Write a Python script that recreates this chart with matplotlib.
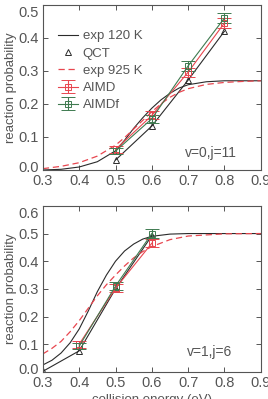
import matplotlib.pyplot as plt
import matplotlib.transforms as mtransforms
import numpy as np

plt.rcParams['font.family'] = ['Liberation Sans', 'DejaVu Sans']

# ---- panel 1: v=0, j=11 ----
e_exp1 = [0.30, 0.35, 0.40, 0.45, 0.50, 0.525, 0.55, 0.575, 0.60, 0.625, 0.65, 0.675, 0.70, 0.75, 0.80, 0.85, 0.90]
exp120_1 = [0.000, 0.002, 0.009, 0.025, 0.058, 0.090, 0.126, 0.158, 0.187, 0.212, 0.232, 0.248, 0.258, 0.267, 0.270, 0.270, 0.270]
exp925_1 = [0.004, 0.011, 0.022, 0.042, 0.075, 0.098, 0.124, 0.150, 0.176, 0.200, 0.220, 0.235, 0.246, 0.259, 0.265, 0.268, 0.270]

e_sim1 = [0.5, 0.6, 0.7, 0.8]
qct1 = [0.030, 0.133, 0.272, 0.420]
aimd1 = [0.062, 0.165, 0.296, 0.445]
aimd1_err = [0.010, 0.012, 0.014, 0.015]
aimdf1 = [0.057, 0.155, 0.315, 0.460]
aimdf1_err = [0.010, 0.012, 0.014, 0.015]

# ---- panel 2: v=1, j=6 ----
e_exp2 = [0.30, 0.325, 0.35, 0.375, 0.40, 0.425, 0.45, 0.475, 0.50, 0.525, 0.55, 0.575, 0.60, 0.65, 0.70, 0.80, 0.90]
exp120_2 = [0.025, 0.042, 0.068, 0.105, 0.155, 0.220, 0.290, 0.350, 0.400, 0.437, 0.462, 0.480, 0.490, 0.498, 0.500, 0.500, 0.500]
exp925_2 = [0.065, 0.085, 0.110, 0.145, 0.185, 0.230, 0.275, 0.315, 0.350, 0.383, 0.412, 0.435, 0.453, 0.478, 0.491, 0.499, 0.500]

e_qct2 = [0.3, 0.4, 0.5, 0.6]
qct2 = [0.002, 0.076, 0.300, 0.492]
e_sim2 = [0.4, 0.5, 0.6]
aimd2 = [0.100, 0.302, 0.465]
aimd2_err = [0.012, 0.015, 0.015]
aimdf2 = [0.093, 0.310, 0.500]
aimdf2_err = [0.012, 0.015, 0.015]

grey = '#555555'
red = '#e8464f'
green = '#3f7a50'
black = '#2b2b2b'

fig = plt.figure(figsize=(2.68, 3.99), dpi=100)
ax1 = fig.add_axes([0.160, 0.574, 0.813, 0.414])
ax2 = fig.add_axes([0.160, 0.068, 0.813, 0.416])


def draw(ax, e_exp, exp120, exp925, e_qct, qct, e_sim, aimd, aimd_err, aimdf, aimdf_err):
    ax.plot(e_exp, exp120, color=black, lw=0.8, label='exp 120 K')
    ax.plot(e_qct, qct, color=black, lw=0.8, marker='^', ms=5, mfc='none',
            mec=black, mew=0.7)
    ax.plot([], [], ls='none', marker='^', ms=5, mfc='none', mec=black, mew=0.7, label='QCT')
    ax.plot(e_exp, exp925, color=red, lw=0.9, ls=(0, (5, 3)), label='exp 925 K')
    ax.errorbar(e_sim, aimd, yerr=aimd_err, color=red, lw=0.8, marker='s', ms=5,
                mfc='none', mew=0.7, capsize=5, capthick=0.8, elinewidth=0.8, label='AIMD')
    ax.errorbar(e_sim, aimdf, yerr=aimdf_err, color=green, lw=0.8, marker='s', ms=5,
                mfc='none', mew=0.7, capsize=5, capthick=0.8, elinewidth=0.8, label='AIMDf')


draw(ax1, e_exp1, exp120_1, exp925_1, e_sim1, qct1, e_sim1, aimd1, aimd1_err, aimdf1, aimdf1_err)
draw(ax2, e_exp2, exp120_2, exp925_2, e_qct2, qct2, e_sim2, aimd2, aimd2_err, aimdf2, aimdf2_err)

ax1.set_ylim(0, 0.5)
ax1.set_yticks([0.0, 0.1, 0.2, 0.3, 0.4, 0.5])
ax2.set_ylim(0, 0.6)
ax2.set_yticks([0.0, 0.1, 0.2, 0.3, 0.4, 0.5, 0.6])

for ax in (ax1, ax2):
    ax.set_xlim(0.3, 0.9)
    ax.set_xticks([0.3, 0.4, 0.5, 0.6, 0.7, 0.8, 0.9])
    ax.set_xticklabels(['0.3', '0.4', '0.5', '0.6', '0.7', '0.8', '0.9'])
    ax.tick_params(direction='in', top=True, right=True, length=3.5, width=0.7,
                   color=grey, labelcolor=grey, labelsize=10.5, pad=3)
    ax.set_yticklabels(['%.1f' % t for t in ax.get_yticks()])
    ax.set_ylabel('reaction probability', color=grey, fontsize=9.5, labelpad=1)
    for s in ax.spines.values():
        s.set_color(grey)
        s.set_linewidth(0.8)
    labs = ax.get_yticklabels()
    labs[0].set_transform(labs[0].get_transform() +
                          mtransforms.ScaledTranslation(0, 3 / 100, fig.dpi_scale_trans))
    labs[-1].set_transform(labs[-1].get_transform() +
                           mtransforms.ScaledTranslation(0, -7 / 100, fig.dpi_scale_trans))

ax1.text(0.77, 0.10, 'v=0,j=11', transform=ax1.transAxes, ha='center', va='center',
         fontsize=10, color=grey)
ax2.text(0.766, 0.12, 'v=1,j=6', transform=ax2.transAxes, ha='center', va='center',
         fontsize=10, color=grey)
ax2.set_xlabel('collision energy (eV)', color=grey, fontsize=9.5, labelpad=3)

ax1.legend(loc='center left', bbox_to_anchor=(0.07, 0.6), frameon=False, fontsize=9.5,
           labelcolor=grey, handlelength=1.5, handletextpad=0.35, labelspacing=0.38,
           borderaxespad=0, borderpad=0)

fig.savefig('out.png', dpi=100)
